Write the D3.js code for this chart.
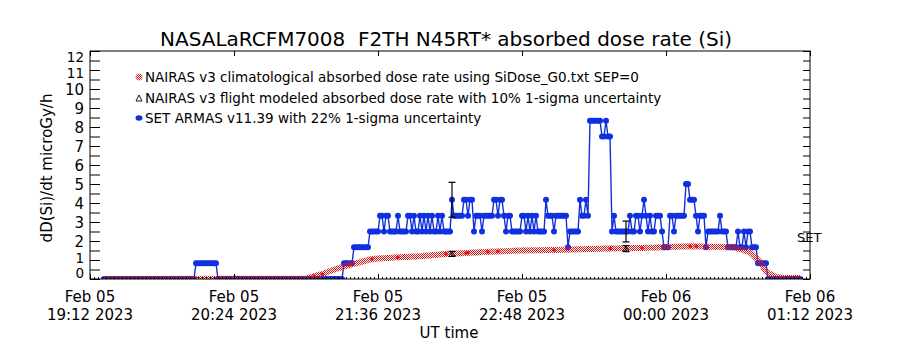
<!DOCTYPE html>
<html><head><meta charset="utf-8">
<script src="https://cdn.jsdelivr.net/npm/d3@7"></script>
<style>body{margin:0;background:#fff}svg{display:block}text{font-family:"DejaVu Sans",sans-serif;fill:#000}</style>
</head><body><svg id="c" width="900" height="350"></svg>
<script>
const titleText = "NASALaRCFM7008  F2TH N45RT* absorbed dose rate (Si)";
const yLabel = "dD(Si)/dt microGy/h";
const xLabel = "UT time";
const yTicks = [0,1,2,3,4,5,6,7,8,9,10,11,12];
const xTickTimes = ["19:12","20:24","21:36","22:48","00:00","01:12"];
const xTickDays = ["Feb 05","Feb 05","Feb 05","Feb 05","Feb 06","Feb 06"];
const legendLabels = [
  "NAIRAS v3 climatological absorbed dose rate using SiDose_G0.txt SEP=0",
  "NAIRAS v3 flight modeled absorbed dose rate with 10% 1-sigma uncertainty",
  "SET ARMAS v11.39 with 22% 1-sigma uncertainty"
];

// SET ARMAS measured dose rate (one sample per minute)
const setTimes = [
 "19:19","19:20","19:21","19:22","19:23","19:24","19:25","19:26","19:27","19:28","19:29","19:30","19:31","19:32","19:33","19:34","19:35","19:36","19:37","19:38","19:39","19:40","19:41","19:42","19:43","19:44","19:45","19:46","19:47","19:48","19:49","19:50","19:51","19:52","19:53","19:54","19:55","19:56","19:57","19:58","19:59",
 "20:00","20:01","20:02","20:03","20:04","20:05","20:06","20:07","20:08","20:09","20:10","20:11","20:12","20:13","20:14","20:15","20:16","20:17","20:18","20:19","20:20","20:21","20:22","20:23","20:24","20:25","20:26","20:27","20:28","20:29","20:30","20:31","20:32","20:33","20:34","20:35","20:36","20:37","20:38","20:39","20:40","20:41","20:42","20:43","20:44","20:45","20:46","20:47","20:48","20:49","20:50","20:51","20:52","20:53","20:54","20:55","20:56","20:57","20:58","20:59",
 "21:00","21:01","21:02","21:03","21:04","21:05","21:06","21:07","21:08","21:09","21:10","21:11","21:12","21:13","21:14","21:15","21:16","21:17","21:18","21:19","21:20","21:21","21:22","21:23","21:24","21:25","21:26","21:27","21:28","21:29","21:30","21:31","21:32","21:33","21:34","21:35","21:36","21:37","21:38","21:39","21:40","21:41","21:42","21:43","21:44","21:45","21:46","21:47","21:48","21:49","21:50","21:51","21:52","21:53","21:54","21:55","21:56","21:57","21:58","21:59",
 "22:00","22:01","22:02","22:03","22:04","22:05","22:06","22:07","22:08","22:09","22:10","22:11","22:12","22:13","22:14","22:15","22:16","22:17","22:18","22:19","22:20","22:21","22:22","22:23","22:24","22:25","22:26","22:27","22:28","22:29","22:30","22:31","22:32","22:33","22:34","22:35","22:36","22:37","22:38","22:39","22:40","22:41","22:42","22:43","22:44","22:45","22:46","22:47","22:48","22:49","22:50","22:51","22:52","22:53","22:54","22:55","22:56","22:57","22:58","22:59",
 "23:00","23:01","23:02","23:03","23:04","23:05","23:06","23:07","23:08","23:09","23:10","23:11","23:12","23:13","23:14","23:15","23:16","23:17","23:18","23:19","23:20","23:21","23:22","23:23","23:24","23:25","23:26","23:27","23:28","23:29","23:30","23:31","23:32","23:33","23:34","23:35","23:36","23:37","23:38","23:39","23:40","23:41","23:42","23:43","23:44","23:45","23:46","23:47","23:48","23:49","23:50","23:51","23:52","23:53","23:54","23:55","23:56","23:57","23:58","23:59",
 "00:00","00:01","00:02","00:03","00:04","00:05","00:06","00:07","00:08","00:09","00:10","00:11","00:12","00:13","00:14","00:15","00:16","00:17","00:18","00:19","00:20","00:21","00:22","00:23","00:24","00:25","00:26","00:27","00:28","00:29","00:30","00:31","00:32","00:33","00:34","00:35","00:36","00:37","00:38","00:39","00:40","00:41","00:42","00:43","00:44","00:45","00:46","00:47","00:48","00:49","00:50","00:51","00:52","00:53","00:54","00:55","00:56","00:57","00:58","00:59",
 "01:00","01:01","01:02","01:03","01:04","01:05","01:06","01:07"
];
const setValues = [
 0,0,0,0,0,0,0,0,0,0,0,0,0,0,0,0,0,0,0,0,0,0,0,0,0,0,0,0,0,0,0,0,0,0,0,0,0,0,0,0,0,
 0,0,0,0,0,0.83,0.83,0.83,0.83,0.83,0.83,0.83,0.83,0.83,0.83,0.83,0,0,0,0,0,0,0,0,0,0,0,0,0,0,0,0,0,0,0,0,0,0,0,0,0,0,0,0,0,0,0,0,0,0,0,0,0,0,0,0,0,0,0,0,
 0,0,0,0,0,0,0,0,0,0,0,0,0,0,0,0,0,0,0,0.83,0.83,0.83,0.83,0.83,1.67,1.67,1.67,1.67,1.67,1.67,1.67,1.67,2.5,2.5,2.5,2.5,2.5,3.33,3.33,2.5,3.33,3.33,2.5,2.5,2.5,2.5,3.33,2.5,2.5,2.5,2.5,3.33,3.33,2.5,3.33,2.5,2.5,3.33,2.5,3.33,
 2.5,3.33,2.5,3.33,2.5,2.5,3.33,2.5,3.33,2.5,2.5,2.5,2.5,4.17,3.33,3.33,3.33,3.33,3.33,4.17,4.17,3.33,4.17,4.17,2.5,3.33,3.33,3.33,2.5,3.33,3.33,3.33,3.33,3.33,4.17,4.17,3.33,4.17,4.17,3.33,2.5,3.33,3.33,2.5,2.5,2.5,2.5,2.5,3.33,3.33,2.5,3.33,2.5,3.33,2.5,3.33,2.5,2.5,2.5,2.5,
 4.17,3.33,3.33,3.33,2.5,3.33,3.33,3.33,3.33,3.33,3.33,1.67,2.5,2.5,2.5,2.5,2.5,4.17,3.33,3.33,4.17,3.33,8.33,8.33,8.33,8.33,8.33,8.33,7.5,7.5,8.33,7.5,7.5,2.5,3.33,2.5,2.5,2.5,2.5,2.5,2.5,2.5,3.33,2.5,2.5,3.33,3.33,2.5,3.33,4.17,3.33,2.5,3.33,2.5,2.5,3.33,3.33,3.33,2.5,1.67,
 1.67,1.67,3.33,3.33,2.5,3.33,3.33,3.33,3.33,3.33,5.0,5.0,4.17,4.17,4.17,3.33,2.5,3.33,3.33,3.33,1.67,2.5,2.5,2.5,2.5,2.5,2.5,3.33,2.5,2.5,2.5,1.67,1.67,1.67,1.67,1.67,2.5,1.67,1.67,2.5,1.67,2.5,2.5,1.67,1.67,1.67,0.83,0.83,0.83,0.83,0.83,0,0,0,0,0,0,0,0,0,
 0,0,0,0,0,0,0,0
];

// NAIRAS v3 climatological absorbed dose rate
const nairasTimes = ["19:19","21:00","21:04","21:08","21:14","21:22","21:33","21:46","21:57","22:10","22:20","22:31","22:47","23:04","23:17","23:32","23:48","00:02","00:12","00:22","00:33","00:38","00:42","00:44","00:47","00:50","00:53","00:55","00:59","01:07"];
const nairasValues = [0,0.02,0.15,0.25,0.5,0.74,1.05,1.14,1.2,1.32,1.37,1.43,1.5,1.53,1.56,1.6,1.63,1.68,1.72,1.7,1.68,1.55,1.42,1.2,0.9,0.4,0.2,0.1,0.05,0.05];
const nairasDotTimes = ["21:04","21:08","21:22","21:33","21:46","22:10","22:20","22:21","22:31","22:36","23:04","23:32","23:48","00:12","00:15"];
const nairasDotValues = [0.15,0.25,0.74,1.05,1.14,1.32,1.37,1.38,1.43,1.46,1.53,1.6,1.63,1.72,1.72];

// NAIRAS v3 flight modeled (10% sigma) and SET ARMAS error bars (22% sigma)
const flightTimes = ["22:13","23:40"];
const flightValues = [1.32,1.6];
const flightSigma = 0.10;
const setErrTimes = ["22:13","23:40"];
const setErrValues = [4.17,2.5];
const setSigma = 0.22;

const plot = {left: 90, right: 810, top: 51, bottom: 279};
const RED = "#e01414", BLUE = "#1030e0";

function parseT(s){ const [h,m] = s.split(":").map(Number); return new Date(Date.UTC(2023,1,h<12?6:5,h,m)); }

const x = d3.scaleUtc().domain([parseT("19:12"), parseT("01:12")]).range([plot.left, plot.right]);
const y = d3.scaleLinear().domain([0,12]).range([plot.bottom, plot.top]);

const svg = d3.select("#c");
const defs = svg.append("defs");
const pat = defs.append("pattern").attr("id","hatch").attr("width",2).attr("height",2).attr("patternUnits","userSpaceOnUse");
pat.append("rect").attr("x",0).attr("y",0).attr("width",1).attr("height",1).attr("fill",RED);
pat.append("rect").attr("x",1).attr("y",1).attr("width",1).attr("height",1).attr("fill",RED);
defs.append("clipPath").attr("id","clip").append("rect")
  .attr("x",plot.left).attr("y",plot.top-10).attr("width",plot.right-plot.left).attr("height",plot.bottom-plot.top+10);

// Title
svg.append("text").attr("x",446).attr("y",46).attr("text-anchor","middle").attr("font-size",20)
  .style("white-space","pre").text(titleText);

// Data
const g = svg.append("g").attr("clip-path","url(#clip)");
const setData = setTimes.map((t,i)=>({t:parseT(t), v:setValues[i]}));
g.append("path").datum(setData).attr("fill","none").attr("stroke",BLUE).attr("stroke-width",1.4)
  .attr("d", d3.line().x(d=>x(d.t)).y(d=>y(d.v)));
g.selectAll("circle.set").data(setData).join("circle").attr("class","set")
  .attr("cx",d=>x(d.t)).attr("cy",d=>y(d.v)).attr("r",3).attr("fill",BLUE);

const nData = nairasTimes.map((t,i)=>({t:parseT(t), v:nairasValues[i]}));
g.append("path").datum(nData).attr("fill","none").attr("stroke","url(#hatch)").attr("stroke-width",6)
  .attr("d", d3.line().x(d=>x(d.t)).y(d=>y(d.v)));
g.selectAll("circle.nd").data(nairasDotTimes.map((t,i)=>({t:parseT(t), v:nairasDotValues[i]}))).join("circle").attr("class","nd")
  .attr("cx",d=>x(d.t)).attr("cy",d=>y(d.v)).attr("r",1.8).attr("fill",RED);

// Error bars
function errBar(t, v, s, cap){
  const xx = x(parseT(t));
  const y1 = y(v*(1-s)), y2 = y(v*(1+s));
  g.append("line").attr("x1",xx).attr("x2",xx).attr("y1",y1).attr("y2",y2).attr("stroke","#000").attr("stroke-width",1.2);
  [y1,y2].forEach(yy=>g.append("line").attr("x1",xx-cap).attr("x2",xx+cap).attr("y1",yy).attr("y2",yy).attr("stroke","#000").attr("stroke-width",1.2));
}
setErrTimes.forEach((t,i)=>errBar(t,setErrValues[i],setSigma,3.5));
flightTimes.forEach((t,i)=>{
  errBar(t,flightValues[i],flightSigma,3.5);
  const xx = x(parseT(t)), yy = y(flightValues[i]);
  g.append("path").attr("d",`M${xx-3},${yy+2.5}L${xx},${yy-3}L${xx+3},${yy+2.5}Z`).attr("fill","none").attr("stroke","#000").attr("stroke-width",0.8);
});

// Axes box
svg.append("rect").attr("x",plot.left).attr("y",plot.top).attr("width",plot.right-plot.left).attr("height",plot.bottom-plot.top)
  .attr("fill","none").attr("stroke","#000").attr("stroke-width",1);

// Y axis (left and right) using d3 axes
const yMinor = d3.range(0, 12.01, 0.5);
svg.append("g").attr("transform",`translate(${plot.left},0)`)
  .call(d3.axisRight(y).tickValues(yMinor).tickSize(10).tickFormat(""))
  .call(a=>a.select(".domain").remove());
svg.append("g").attr("transform",`translate(${plot.right},0)`)
  .call(d3.axisLeft(y).tickValues(yMinor).tickSize(7).tickFormat(""))
  .call(a=>a.select(".domain").remove());
const yl = svg.append("g");
yTicks.forEach(v=>{
  let yy = y(v) + 5.5;
  let fs = 15;
  if (v===0) { yy = 278; fs = 13.5; }
  if (v===1) { yy = 263; fs = 13.5; }
  if (v===11) { yy = 78; fs = 13.5; }
  if (v===12) { yy = 62; fs = 13.5; }
  yl.append("text").attr("x",84).attr("y",yy).attr("text-anchor","end").attr("font-size",fs).text(v);
});
svg.append("text").attr("transform",`translate(52,${(plot.top+plot.bottom)/2+3}) rotate(-90)`)
  .attr("text-anchor","middle").attr("font-size",15).text(yLabel);

// X axis ticks
const majorX = xTickTimes.map(parseT);
svg.append("g").attr("transform",`translate(0,${plot.bottom})`)
  .call(d3.axisTop(x).tickValues(majorX).tickSize(5).tickFormat(""))
  .call(a=>a.select(".domain").remove());
svg.append("g").attr("transform",`translate(0,${plot.top})`)
  .call(d3.axisBottom(x).tickValues(majorX).tickSize(5).tickFormat(""))
  .call(a=>a.select(".domain").remove());
svg.append("g").attr("transform",`translate(0,${plot.bottom})`)
  .call(d3.axisTop(x).ticks(d3.utcMinute.every(2)).tickSize(2).tickFormat(""))
  .call(a=>a.select(".domain").remove());
svg.selectAll(".tick line").attr("stroke","#000");

xTickTimes.forEach((t,i)=>{
  const xx = x(parseT(t));
  svg.append("text").attr("x",xx).attr("y",302).attr("text-anchor","middle").attr("font-size",15).text(xTickDays[i]);
  svg.append("text").attr("x",xx).attr("y",320).attr("text-anchor","middle").attr("font-size",15).text(t+" 2023");
});
svg.append("text").attr("x",449).attr("y",338).attr("text-anchor","middle").attr("font-size",15).text(xLabel);

// Legend
const lg = svg.append("g");
const ly = [77, 98, 118];
lg.append("circle").attr("cx",139).attr("cy",ly[0]).attr("r",3.5).attr("fill","url(#hatch)");
lg.append("path").attr("d",`M${136},${ly[1]+3}L${139},${ly[1]-3}L${142},${ly[1]+3}Z`).attr("fill","none").attr("stroke","#000").attr("stroke-width",0.9);
lg.append("ellipse").attr("cx",139).attr("cy",ly[2]).attr("rx",3.5).attr("ry",2.8).attr("fill",BLUE);
legendLabels.forEach((s,i)=>lg.append("text").attr("x",145).attr("y",ly[i]+5).attr("font-size",13.5).text(s));

svg.append("text").attr("x",797).attr("y",242).attr("font-size",13).text("SET");
</script></body></html>
